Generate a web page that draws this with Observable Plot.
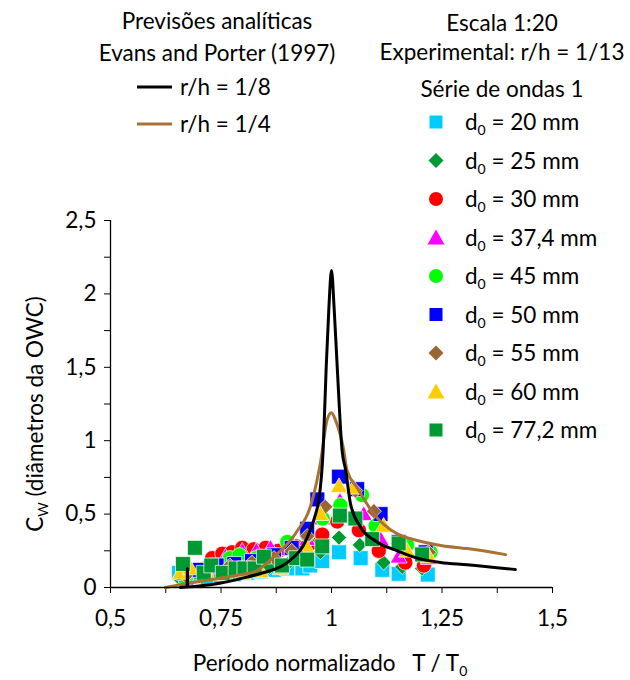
<!DOCTYPE html>
<html><head><meta charset="utf-8">
<script src="https://cdn.jsdelivr.net/npm/d3@7"></script>
<script src="https://cdn.jsdelivr.net/npm/@observablehq/plot@0.6"></script>
<style>
body{margin:0;background:#fff;}
#wrap{position:relative;width:630px;height:680px;font-family:Lato,"Open Sans",sans-serif;color:#000;}
#wrap svg{display:block;}
#ov{position:absolute;left:0;top:0;pointer-events:none;}
</style></head><body><div id="wrap"></div>
<script>
// ---------- data ----------
// analytical predictions (Evans and Porter 1997)
const tBlack = [0.658,0.670,0.6735,0.674,0.6745,0.70,0.75,0.794,0.839,0.90,0.945,0.964,0.971,0.981,0.988,0.994,1.0,1.006,1.013,1.024,1.032,1.043,1.066,1.103,1.149,1.194,1.247,1.307,1.416];
const cBlack = [0,0.003,0.004,0.13,0.005,0.01,0.03,0.06,0.095,0.17,0.34,0.5,0.59,0.93,1.5,1.9,2.16,1.9,1.5,0.93,0.8,0.57,0.41,0.31,0.25,0.2,0.17,0.155,0.122];
const tBrown = [0.624,0.68,0.72,0.76,0.80,0.824,0.87,0.919,0.956,0.975,0.99,1.0,1.009,1.028,1.035,1.058,1.096,1.149,1.194,1.247,1.307,1.394];
const cBrown = [0,0.03,0.05,0.07,0.09,0.104,0.21,0.37,0.59,0.85,1.14,1.19,1.14,0.93,0.8,0.68,0.5,0.365,0.32,0.286,0.265,0.224];

// experimental series (d0)
const t20 = [0.655,0.69,0.72,0.75,0.78,0.81,0.84,0.87,0.90,0.934,0.952,0.979,1.017,1.066,1.115,1.152,1.218];
const c20 = [0.1,0.08,0.07,0.08,0.09,0.1,0.11,0.12,0.13,0.13,0.15,0.18,0.24,0.2,0.12,0.093,0.088];
const t25 = [0.66,0.70,0.74,0.78,0.82,0.86,0.90,0.945,0.975,1.017,1.064,1.118,1.16,1.205];
const c25 = [0.05,0.08,0.1,0.12,0.13,0.14,0.16,0.2,0.24,0.34,0.29,0.17,0.14,0.13];
const t30 = [0.67,0.70,0.73,0.753,0.775,0.798,0.824,0.851,0.88,0.92,0.952,0.979,1.013,1.062,1.107,1.167,1.209];
const c30 = [0.06,0.12,0.2,0.23,0.24,0.27,0.26,0.27,0.25,0.28,0.3,0.36,0.45,0.39,0.25,0.17,0.15];
const t374 = [0.67,0.72,0.76,0.798,0.83,0.862,0.90,0.945,0.979,1.019,1.073,1.111,1.152,1.22];
const c374 = [0.05,0.12,0.2,0.24,0.24,0.26,0.25,0.32,0.46,0.58,0.49,0.32,0.2,0.19];
const t45 = [0.67,0.72,0.77,0.792,0.83,0.87,0.90,0.945,0.98,1.02,1.069,1.10,1.171,1.224];
const c45 = [0.06,0.14,0.2,0.22,0.2,0.22,0.31,0.36,0.47,0.56,0.63,0.42,0.29,0.24];
const t50 = [0.665,0.70,0.74,0.78,0.82,0.87,0.91,0.945,0.968,1.017,1.058,1.111,1.152,1.213];
const c50 = [0.1,0.12,0.15,0.16,0.18,0.22,0.27,0.4,0.6,0.755,0.67,0.5,0.31,0.24];
const t55 = [0.67,0.72,0.77,0.82,0.87,0.91,0.945,0.986,1.054,1.096,1.15,1.22];
const c55 = [0.08,0.12,0.15,0.17,0.2,0.25,0.35,0.55,0.66,0.52,0.3,0.24];
const t60 = [0.658,0.681,0.72,0.76,0.80,0.84,0.885,0.943,0.975,1.017,1.05,1.118,1.171,1.22];
const c60 = [0.09,0.12,0.08,0.08,0.09,0.1,0.12,0.27,0.49,0.68,0.67,0.41,0.24,0.2];
const t772 = [0.664,0.691,0.711,0.728,0.754,0.783,0.803,0.826,0.847,0.888,0.92,0.945,0.979,1.019,1.054,1.092,1.152,1.205];
const c772 = [0.16,0.27,0.1,0.15,0.1,0.13,0.13,0.13,0.21,0.15,0.2,0.19,0.28,0.49,0.47,0.33,0.3,0.225];

const seriesLabels = ["20 mm","25 mm","30 mm","37,4 mm","45 mm","50 mm","55 mm","60 mm","77,2 mm"];
const seriesT = [t20,t25,t30,t374,t45,t50,t55,t60,t772];
const seriesC = [c20,c25,c30,c374,c45,c50,c55,c60,c772];
const seriesColors = ["#00CCFF","#009933","#FF0000","#FF00FF","#00FF00","#0000FF","#996633","#FFCC00","#009933"];
const seriesShapes = ["square","diamond","circle","triangle","circle","square","diamond","triangle","square"];

const xMajor = [0.5,0.75,1,1.25,1.5];
const xTicks = [0.5,0.625,0.75,0.875,1,1.125,1.25,1.375,1.5];
const yMajor = [0,0.5,1,1.5,2,2.5];
const yTicks = [0,0.25,0.5,0.75,1,1.25,1.5,1.75,2,2.25,2.5];

// ---------- build ----------
const fmt = d => String(d).replace(".", ",");
const FONT = 'Lato, "Open Sans", sans-serif';
const FS = 22.5;
const symMap = {square:{s:"square",r:8.4}, diamond:{s:"diamond2",r:6.8}, circle:{s:"circle",r:7.6}, triangle:{s:"triangle",r:6.3}};

const dotMarks = seriesT.map((ts, i) => {
  const rows = ts.map((t, j) => ({t, c: seriesC[i][j]}));
  const sm = symMap[seriesShapes[i]];
  return Plot.dot(rows, {x: "t", y: "c", symbol: () => sm.s, r: sm.r, fill: seriesColors[i], stroke: "white", strokeWidth: 0.7});
});
const blackRows = tBlack.map((t, j) => ({t, c: cBlack[j]}));
const brownRows = tBrown.map((t, j) => ({t, c: cBrown[j]}));

const chart = Plot.plot({
  width: 630, height: 680,
  marginLeft: 110, marginRight: 78, marginTop: 220, marginBottom: 93,
  style: {fontSize: FS + "px", fontFamily: FONT, color: "#000", background: "transparent"},
  symbol: {type: "identity"},
  x: {domain: [0.5, 1.5], ticks: xTicks, tickFormat: d => xMajor.includes(d) ? fmt(d) : "", tickSize: 6, tickPadding: 17, label: null},
  y: {domain: [0, 2.5], ticks: yTicks, tickFormat: d => yMajor.includes(d) ? fmt(d) : "", tickSize: 6, tickPadding: 8, label: null},
  marks: [
    ...dotMarks,
    Plot.line(brownRows, {x: "t", y: "c", stroke: "#A87236", strokeWidth: 3, curve: "monotone-x"}),
    Plot.line(blackRows, {x: "t", y: "c", stroke: "#000", strokeWidth: 3, curve: "monotone-x"}),
    Plot.ruleX([0.5], {stroke: "#000", strokeWidth: 1.3}),
    Plot.ruleY([0], {stroke: "#000", strokeWidth: 1.3})
  ]
});
const wrap = document.getElementById("wrap");
wrap.appendChild(chart);

// ---------- overlay: legends and axis titles ----------
function marker(shape, color, cx, cy) {
  if (shape === "square") return `<rect x="${cx-6.5}" y="${cy-6.5}" width="13" height="13" fill="${color}"/>`;
  if (shape === "diamond") return `<polygon points="${cx},${cy-7.5} ${cx+7.5},${cy} ${cx},${cy+7.5} ${cx-7.5},${cy}" fill="${color}"/>`;
  if (shape === "circle") return `<circle cx="${cx}" cy="${cy}" r="7" fill="${color}"/>`;
  return `<polygon points="${cx},${cy-8} ${cx+8.5},${cy+7} ${cx-8.5},${cy+7}" fill="${color}"/>`;
}
let s = `<svg id="ov" width="630" height="680" font-family='${FONT}' font-size="${FS}" fill="#000">`;
s += `<text x="217" y="29" text-anchor="middle">Previsões analíticas</text>`;
s += `<text x="217" y="61" text-anchor="middle">Evans and Porter (1997)</text>`;
s += `<line x1="137" x2="172" y1="87" y2="87" stroke="#000" stroke-width="3"/>`;
s += `<text x="180" y="95">r/h = 1/8</text>`;
s += `<line x1="137" x2="172" y1="124" y2="124" stroke="#A87236" stroke-width="3"/>`;
s += `<text x="180" y="132">r/h = 1/4</text>`;
s += `<text x="502" y="31" text-anchor="middle">Escala 1:20</text>`;
s += `<text x="502" y="60" text-anchor="middle">Experimental: r/h = 1/13</text>`;
s += `<text x="502" y="97" text-anchor="middle">Série de ondas 1</text>`;
seriesLabels.forEach((lab, i) => {
  const cy = 122 + i * 38.5;
  s += marker(seriesShapes[i], seriesColors[i], 436, cy);
  s += `<text x="465" y="${cy + 8}">d<tspan font-size="14" dy="5">0</tspan><tspan dy="-5"> = ${lab}</tspan></text>`;
});
s += `<text x="330" y="671" text-anchor="middle" style="white-space:pre">Período normalizado   T / T<tspan font-size="14" dy="5">0</tspan></text>`;
s += `<text transform="translate(43,414) rotate(-90)" text-anchor="middle">C<tspan font-size="14" dy="5">W</tspan><tspan dy="-5"> (diâmetros da OWC)</tspan></text>`;
s += `</svg>`;
wrap.insertAdjacentHTML("beforeend", s);
</script>
</body></html>
